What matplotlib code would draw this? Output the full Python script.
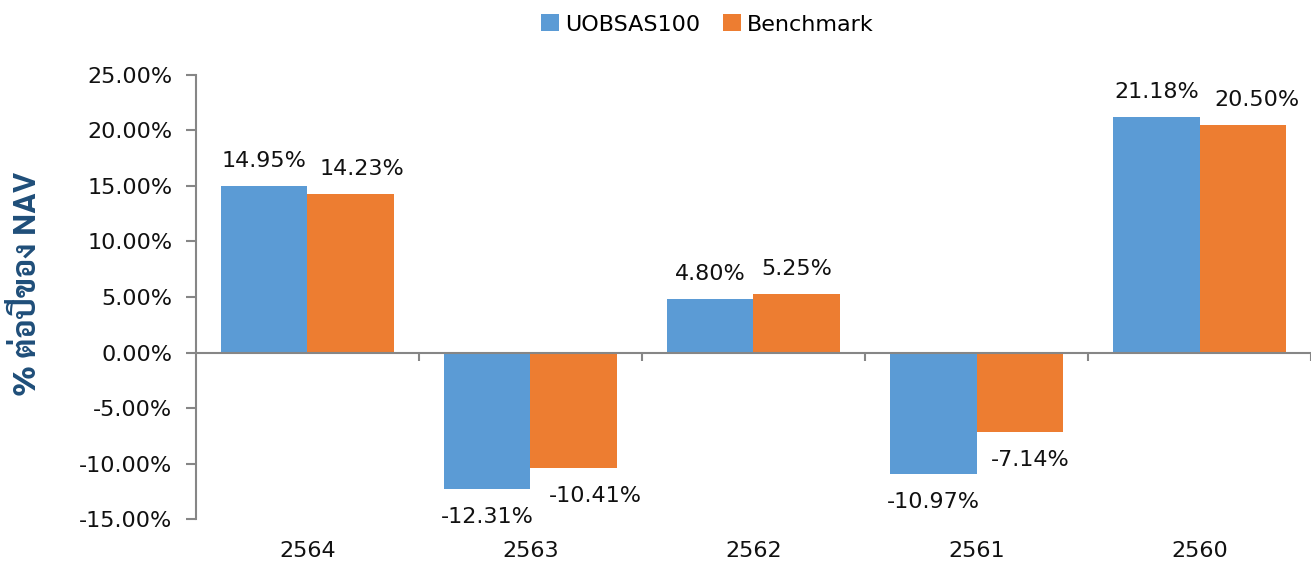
import matplotlib.pyplot as plt
import numpy as np

plt.rcParams['font.family'] = ['DejaVu Sans', 'Noto Sans', 'Noto Sans CJK SC']

# data
years = ["2564", "2563", "2562", "2561", "2560"]
fund = [14.95, -12.31, 4.80, -10.97, 21.18]
bench = [14.23, -10.41, 5.25, -7.14, 20.50]
series_names = ["UOBSAS100", "Benchmark"]
colors = ["#5B9BD5", "#ED7D31"]
ylabel = "% ต่อปีของ NAV"

# horizontal nudge (points) of benchmark labels so they don't collide
bench_dx = [8, 16, 0, 8, 10]

fig = plt.figure(figsize=(13.15, 5.63), dpi=100)
ax = fig.add_axes([0.149, 0.078, 0.848, 0.789])

x = np.arange(len(years))
w = 0.386
bars1 = ax.bar(x - w / 2, fund, w, color=colors[0], label=series_names[0])
bars2 = ax.bar(x + w / 2, bench, w, color=colors[1], label=series_names[1])

# value labels
for bars, vals, dxs in ((bars1, fund, [0] * 5), (bars2, bench, bench_dx)):
    for b, v, dx in zip(bars, vals, dxs):
        off = 18 if v >= 0 else -20
        ax.annotate(f"{v:.2f}%", (b.get_x() + b.get_width() / 2, v),
                    xytext=(dx, off), textcoords="offset points",
                    ha="center", va="center", fontsize=16, color="#111111")

ax.set_xlim(-0.5, len(years) - 0.5)
ax.set_ylim(-15, 25)
ax.set_yticks(np.arange(-15, 26, 5))
ax.set_yticklabels([f"{t:.2f}%" for t in np.arange(-15, 26, 5)])

gray = "#868686"
for s in ["top", "right", "bottom"]:
    ax.spines[s].set_visible(False)
ax.spines["left"].set_color(gray)
ax.spines["left"].set_linewidth(1.5)
ax.axhline(0, color=gray, lw=1.5, zorder=3)

# category boundary ticks on the zero line
bounds = np.arange(len(years) + 1) - 0.5
ax.vlines(bounds[1:], -0.72, 0, color=gray, lw=1.5, zorder=3)

ax.set_xticks(x)
ax.set_xticklabels(years)
ax.tick_params(axis="x", length=0, pad=16, labelsize=16, colors="#111111")
ax.tick_params(axis="y", length=7, width=1.5, color=gray, labelsize=16,
               labelcolor="#111111", pad=10)

ax.set_ylabel(ylabel, fontsize=23, fontweight="bold", color="#1F4E79",
              family=['Sarabun', 'Noto Sans Thai', 'Anuphan', 'DejaVu Sans'])
ax.yaxis.set_label_coords(-0.137, 0.53)

fig.legend(handles=[bars1, bars2], loc="upper center", bbox_to_anchor=(0.538, 1.01),
           ncol=2, frameon=False, fontsize=16, handlelength=0.8, handleheight=0.8,
           handletextpad=0.3, columnspacing=1.0)

fig.savefig("out.png", dpi=100)
